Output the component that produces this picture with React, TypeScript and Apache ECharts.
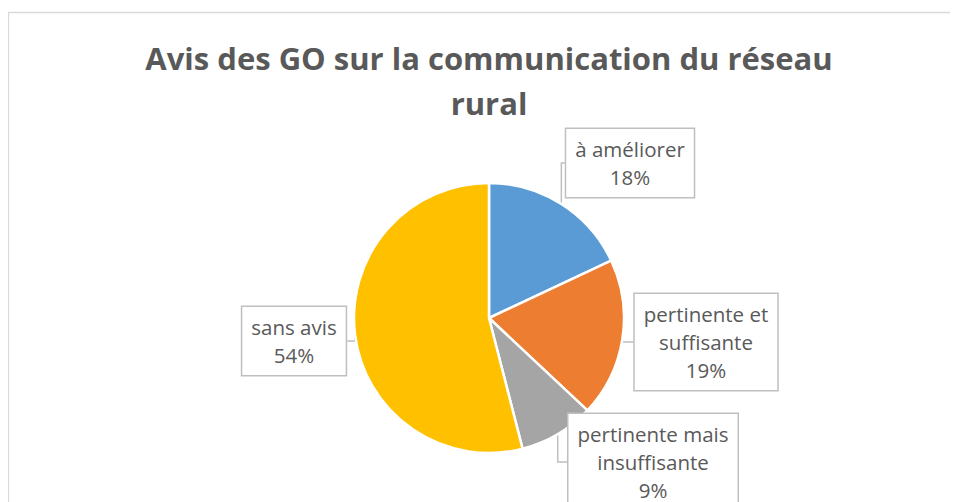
import React, { useEffect, useRef } from 'react';
import * as echarts from 'echarts';

const titleText = 'Avis des GO sur la communication du réseau\nrural';
const categories = ['à améliorer', 'pertinente et suffisante', 'pertinente mais insuffisante', 'sans avis'];
const labelTexts = ['à améliorer', 'pertinente et\nsuffisante', 'pertinente mais\ninsuffisante', 'sans avis'];
const values = [18, 19, 9, 54];
const colors = ['#5B9BD5', '#ED7D31', '#A5A5A5', '#FFC000'];
const labelCenters = [
  [622, 155],
  [698, 334],
  [645, 454],
  [286, 333],
];

export default function App() {
  const ref = useRef<HTMLDivElement>(null);
  useEffect(() => {
    const chart = echarts.init(ref.current!, null, { renderer: 'svg' });
    chart.setOption({
      animation: false,
      title: {
        text: titleText,
        left: 481,
        top: 27,
        padding: 0,
        textAlign: 'center',
        textStyle: {
          fontFamily: 'Open Sans',
          fontWeight: 'bold',
          fontSize: 31,
          lineHeight: 45,
          color: '#595959',
        },
      },
      graphic: [
        {
          type: 'rect',
          silent: true,
          z: -10,
          shape: { x: 0.5, y: 4.5, width: 1000, height: 1000 },
          style: { fill: 'none', stroke: '#D9D9D9', lineWidth: 1.3 },
        },
      ],
      series: [
        {
          type: 'pie',
          center: [481, 310],
          radius: 135,
          startAngle: 90,
          clockwise: true,
          data: categories.map((name, i) => ({
            name,
            value: values[i],
            itemStyle: { color: colors[i] },
          })),
          itemStyle: { borderColor: '#FFFFFF', borderWidth: 2.5 },
          label: {
            show: true,
            position: 'outside',
            formatter: (p: any) => `${labelTexts[p.dataIndex]}\n${Math.round(p.percent)}%`,
            fontFamily: 'Open Sans',
            fontSize: 20.5,
            lineHeight: 28,
            color: '#595959',
            backgroundColor: '#FFFFFF',
            borderColor: '#BFBFBF',
            borderWidth: 1.5,
            padding: [6, 9],
            align: 'center',
          },
          labelLine: {
            show: true,
            lineStyle: { color: '#BFBFBF', width: 1.5 },
          },
          labelLayout: (p: any) => ({
            x: labelCenters[p.dataIndex][0],
            y: labelCenters[p.dataIndex][1],
            align: 'center',
            verticalAlign: 'middle',
          }),
        },
      ],
    });
    return () => chart.dispose();
  }, []);
  return <div ref={ref} style={{ width: 950, height: 494 }} />;
}
